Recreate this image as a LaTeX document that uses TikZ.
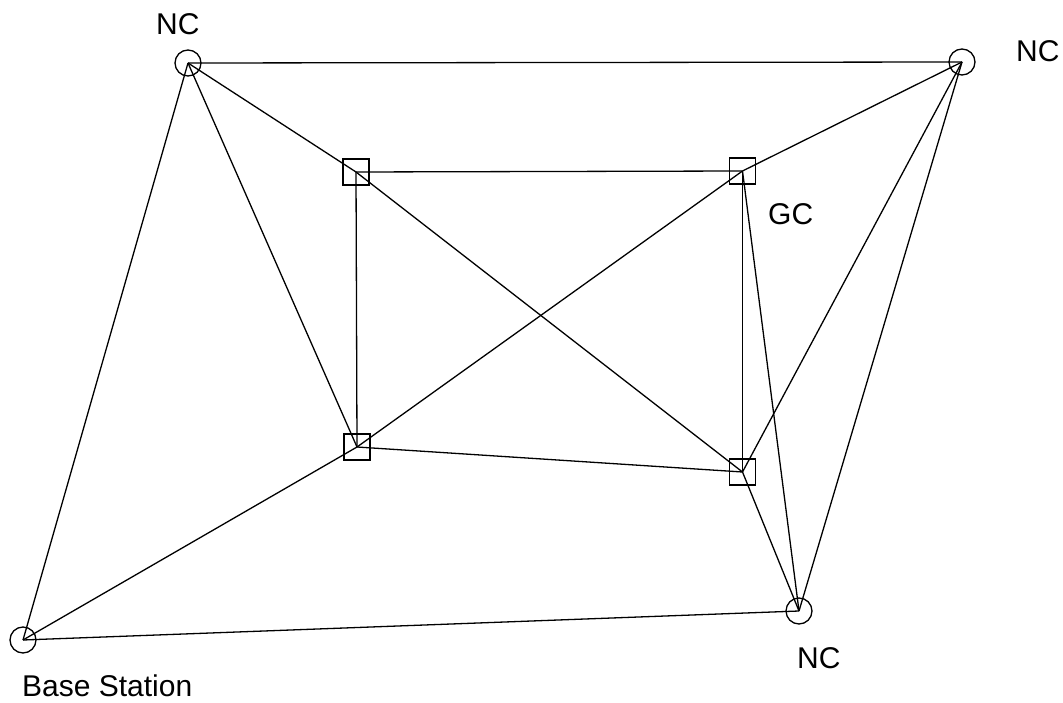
\documentclass[tikz,border=0pt]{standalone}
\usepackage{fontspec}
\setmainfont{Liberation Sans}
\begin{document}
\begin{tikzpicture}[x=1pt,y=-1pt,
  ncnode/.style={draw,circle,line width=1.3pt,minimum size=26pt,inner sep=0pt},
  gcnode/.style={draw,rectangle,line width=1.3pt,minimum size=26pt,inner sep=0pt},
  link/.style={line width=1.3pt},
  lbl/.style={font=\fontsize{30}{30}\selectfont,inner sep=0pt}]
\useasboundingbox (0,0) rectangle (1063,703);
% communication nodes
\node[ncnode] (nc1) at (188,63) {};
\node[ncnode] (nc2) at (962,62) {};
\node[ncnode] (nc3) at (799,611) {};
\node[ncnode] (bs)  at (23,640) {};
% group coordinators
\node[gcnode] (g1) at (356,172) {};
\node[gcnode] (g2) at (742.5,171) {};
\node[gcnode] (g3) at (357,447) {};
\node[gcnode] (g4) at (742.5,472) {};
% links
\foreach \a/\b in {nc1/nc2, nc1/g1, nc1/g3, nc1/bs,
                   nc2/g2, nc2/g4, nc2/nc3,
                   g1/g2, g1/g3, g1/g4,
                   g2/g3, g2/g4, g2/nc3,
                   g3/g4, g3/bs, g4/nc3, bs/nc3}
  \draw[link] (\a.center) -- (\b.center);
% labels
\node[lbl,anchor=base west] (t1) at (156,35) {NC};
\node[lbl,anchor=base west] (t2) at (1016,62) {NC};
\node[lbl,anchor=base west] (t3) at (768,225) {GC};
\node[lbl,anchor=base west] (t4) at (797,668) {NC};
\node[lbl,anchor=base west] (t5) at (22,696) {Base Station};
\end{tikzpicture}
\end{document}
